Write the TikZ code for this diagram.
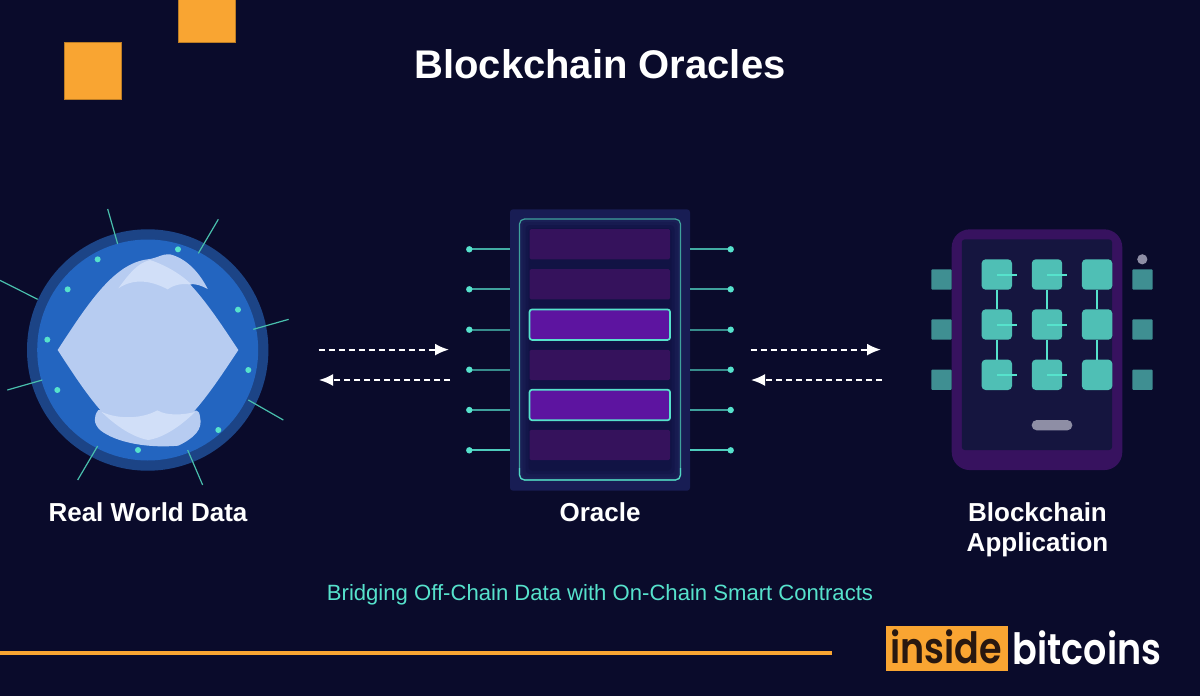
\documentclass[tikz,border=0pt]{standalone}
\usepackage{fontspec}
\usepackage{graphicx}
\setmainfont{Liberation Sans}
\newfontfamily\logofont{Poppins SemiBold}
\usetikzlibrary{arrows.meta}
\definecolor{bgc}{HTML}{0A0B2B}
\definecolor{orangec}{HTML}{F9A532}
\definecolor{tealc}{HTML}{56E2CC}
\definecolor{ringc}{HTML}{1C4486}
\definecolor{bluec}{HTML}{2365C0}
\definecolor{lensc}{HTML}{B7CCF1}
\definecolor{lightc}{HTML}{D1DFF8}
\definecolor{dimrow}{HTML}{35125C}
\definecolor{hotrow}{HTML}{5D14A0}
\definecolor{cellc}{HTML}{4FBFB5}
\definecolor{sidec}{HTML}{3F8F92}
\definecolor{phonec}{HTML}{37125F}
\definecolor{screenc}{HTML}{15153F}
\definecolor{greyc}{HTML}{8E8EA5}
\tikzset{
  px/.style={x=1pt,y=-1pt},
  squaren/.style={fill=orangec,draw=orangec!75!black,line width=.6pt,inner sep=0pt,outer sep=0pt,minimum size=57pt},
  spike/.style={draw=tealc!85!black,line width=1.2pt},
  gdot/.style={circle,fill=tealc,inner sep=0pt,minimum size=6pt},
  pindot/.style={circle,fill=tealc,inner sep=0pt,outer sep=0pt,minimum size=6.4pt},
  pinline/.style={draw=tealc,line width=2pt},
  row/.style={fill=dimrow,rounded corners=1.5pt,inner sep=0pt,outer sep=0pt,minimum width=140.5pt,minimum height=30.3pt},
  hotr/.style={fill=hotrow,draw=tealc,line width=1.7pt,rounded corners=2.5pt,inner sep=0pt,outer sep=0pt,minimum width=140.5pt,minimum height=30.5pt},
  cell/.style={fill=cellc,rounded corners=4pt,inner sep=0pt,outer sep=0pt,minimum size=30.4pt},
  side/.style={fill=sidec,rounded corners=.8pt,inner sep=0pt,outer sep=0pt,minimum size=20.2pt},
  link/.style={draw=tealc,line width=2pt},
  flow/.style={draw=white,line width=2pt,dash pattern=on 6pt off 4pt,-{Latex[length=14pt,width=12pt]}},
  lbl/.style={font=\bfseries\fontsize{26}{30}\selectfont,text=white,align=center,inner sep=0pt,anchor=base},
}
\begin{document}
\begin{tikzpicture}[px]
\useasboundingbox (0,0) rectangle (1200,696);
\fill[bgc] (0,0) rectangle (1200,696);
% decorative squares
\node[squaren] (sqa) at (93,71.1) {};
\node[squaren] (sqb) at (207.2,14.2) {};
\node[font=\bfseries\fontsize{40}{46}\selectfont,text=white,inner sep=0pt] (title) at (600,64) {Blockchain Oracles};
% globe
\fill[ringc] (147.7,350) circle[radius=120.7];
\fill[bluec] (147.7,350) circle[radius=110.5];
\begin{scope}[shift={(0,200)},x=0.33333pt,y=-0.33333pt]
 \draw[spike] (323,27)--(353,132);
 \draw[spike] (655,58)--(595,160);
 \draw[spike] (0,241)--(113,298);
 \draw[spike] (866,358)--(760,388);
 \draw[spike] (22,570)--(127,540);
 \draw[spike] (850,660)--(745,600);
 \draw[spike] (233,840)--(293,738);
 \draw[spike] (608,855)--(563,750);
 \foreach \p/\q in {534/148,293/178,203/268,714/329,142/419,745/510,172/570,655/690,414/750}
   \node[gdot] at (\p,\q) {};
 % lens
 \fill[lensc] (173,450) .. controls (270,300) and (345,190) .. (443,178)
   .. controls (541,190) and (616,300) .. (715,450)
   .. controls (616,600) and (541,710) .. (443,720)
   .. controls (345,710) and (270,600) .. (173,450) -- cycle;
 \fill[lensc] (443,178) .. controls (470,175) and (490,160) .. (510,163)
   .. controls (560,175) and (600,220) .. (623,267)
   .. controls (605,257) and (590,252) .. (570,252) -- cycle;
 \fill[lightc] (355,265) .. controls (385,225) and (410,190) .. (450,180)
   .. controls (495,195) and (540,220) .. (575,254)
   .. controls (550,250) and (525,252) .. (503,268)
   .. controls (450,240) and (400,235) .. (355,265) -- cycle;
 \fill[lensc] (295,630) .. controls (280,650) and (280,670) .. (300,690)
   .. controls (350,730) and (450,745) .. (535,737)
   .. controls (580,715) and (610,690) .. (600,650)
   .. controls (598,640) and (597,632) .. (590,632) -- cycle;
 \fill[lightc] (305,636) .. controls (360,660) and (430,655) .. (472,631)
   .. controls (500,648) and (550,645) .. (585,636)
   .. controls (530,690) and (480,715) .. (445,720)
   .. controls (400,712) and (350,680) .. (305,636) -- cycle;
\end{scope}
% oracle panel
\node[fill={rgb,255:red,24;green,29;blue,84},rounded corners=3pt,inner sep=0pt,outer sep=0pt,minimum width=180pt,minimum height=281.4pt] (oracle) at (600,350) {};
\foreach \d/\c in {0/1A2056,3/171B50,6/13164A,9/111344}{
  \definecolor{tmpc}{HTML}{\c}
  \fill[tmpc,rounded corners=4pt] ({519.5+\d},{219+\d}) rectangle ({680.5-\d},{480-\d});
}
\draw[draw=tealc!70!bgc,line width=1.2pt,rounded corners=5pt] (519.5,219) rectangle (680.5,480);
\draw[draw=tealc!95!bgc,line width=1.2pt,rounded corners=5pt] (519.5,468) -- (519.5,480) -- (680.5,480) -- (680.5,468);
\node[row] (r1) at (599.8,244.2) {};
\node[row] (r2) at (599.8,284.3) {};
\node[hotr] (r3) at (599.8,324.7) {};
\node[row] (r4) at (599.8,365) {};
\node[hotr] (r5) at (599.8,405) {};
\node[row] (r6) at (599.8,445) {};
% pins
\foreach \i/\y/\o in {1/249.3/75,2/289.3/70,3/329.7/60,4/369.7/60,5/410/70,6/450.3/90}{
  \node[pindot] (pl\i) at (469.3,\y) {};
  \node[pindot] (pr\i) at (730.7,\y) {};
  \draw[pinline,draw opacity=\o/100] (pl\i.center) -- (pl\i.center -| oracle.west);
  \draw[pinline,draw opacity=\o/100] (pr\i.center) -- (pr\i.center -| oracle.east);
}
% arrows
\coordinate (a1s) at (318.5,349.6); \coordinate (a1e) at (449,349.6);
\coordinate (a2s) at (450,380); \coordinate (a2e) at (319,380);
\coordinate (a3s) at (750.5,349.6); \coordinate (a3e) at (881,349.6);
\coordinate (a4s) at (882,380); \coordinate (a4e) at (751,380);
\draw[flow] (a1s) -- (a1e);
\draw[flow] (a2s) -- (a2e);
\draw[flow] (a3s) -- (a3e);
\draw[flow] (a4s) -- (a4e);
% phone
\node[fill=phonec,rounded corners=18pt,inner sep=0pt,outer sep=0pt,minimum width=170.6pt,minimum height=240.7pt] (phone) at (1037,349.7) {};
\node[fill=screenc,rounded corners=3pt,inner sep=0pt,outer sep=0pt,minimum width=150.3pt,minimum height=210.7pt] (screen) at (1036.9,344.7) {};
\foreach \i/\y in {1/274.5,2/324.5,3/374.8}{
  \foreach \j/\x in {1/996.8,2/1047,3/1097.1}{
    \node[cell] (c\i\j) at (\x,\y) {};
  }
  \node[side] (sl\i) at (941.5,{\y+5}) {};
  \node[side] (sr\i) at (1142.5,{\y+5}) {};
}
\foreach \j in {1,2,3}{
  \draw[link] (c1\j) -- (c2\j);
  \draw[link] (c2\j) -- (c3\j);
}
\foreach \i in {1,2,3}{
  \foreach \j in {1,2}{
    \draw[link] (c\i\j.center) -- ++(20.3,0);
  }
}
\node[circle,fill=greyc,inner sep=0pt,minimum size=10.2pt] (led) at (1142.3,259.3) {};
\node[fill=greyc,rounded corners=5pt,inner sep=0pt,minimum width=40.6pt,minimum height=10.3pt] (pill) at (1052,425.2) {};
% labels
\node[lbl] (lreal) at (148,521.4) {Real World Data};
\node[lbl] (lora) at (600,521.4) {Oracle};
\node[lbl] (lapp1) at (1037.5,521.4) {Blockchain};
\node[lbl] (lapp2) at (1037.5,551.4) {Application};
\node[text=tealc,font=\fontsize{22.1}{26}\selectfont,inner sep=0pt] (cap) at (600,595) {Bridging Off-Chain Data with On-Chain Smart Contracts};
% footer
\coordinate (fa) at (0,653); \coordinate (fb) at (832,653);
\draw[orangec,line width=3.4pt] (fa) -- (fb);
\node[fill=orangec,inner sep=0pt,outer sep=0pt,minimum width=122pt,minimum height=45pt] (logobox) at (946.7,648.2) {};
\node[text={rgb,255:red,40;green,24;blue,16},font=\logofont\fontsize{36.5}{40}\selectfont,inner sep=0pt,anchor=base] (logoa) at (946,663.5) {\scalebox{1}[1.18]{inside}};
\node[text=white,font=\logofont\fontsize{36.5}{40}\selectfont,inner sep=0pt,anchor=base west] (logob) at (1012.5,664.5) {\scalebox{1}[1.18]{bitcoins}};
\end{tikzpicture}
\end{document}
